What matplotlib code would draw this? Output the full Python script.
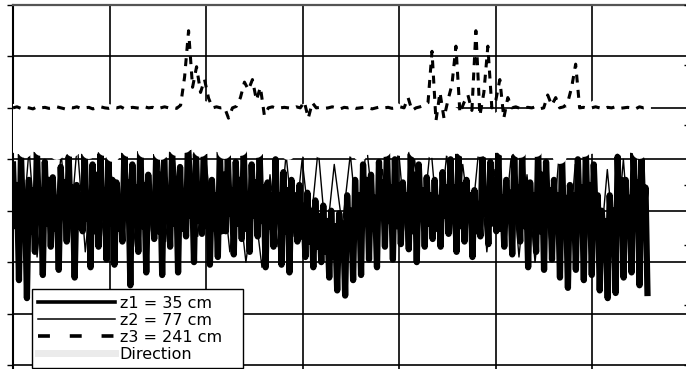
import numpy as np
import matplotlib
matplotlib.use("Agg")
import matplotlib.pyplot as plt
from matplotlib.lines import Line2D

plt.rcParams['font.family'] = ['DejaVu Sans']

# ---- data ----
labels = ["z1 = 35 cm", "z2 = 77 cm", "z3 = 241 cm", "Direction"]

z1 = [3.9, 2.7, 3.5, 1.65, 4.1, 2.85, 3.3, 1.3,
      3.6, 2.6, 3.4, 2.2, 4.2, 2.95, 3.4, 1.75,
      3.95, 2.75, 3.6, 2.3, 3.65, 2.65, 3.25, 1.85,
      3.85, 2.9, 3.55, 2.4, 4.05, 2.8, 3.45, 1.7,
      3.5, 2.7, 3.3, 2.6, 4.2, 2.85, 3.3, 1.9,
      3.9, 2.6, 3.7, 2.3, 4.1, 2.95, 3.4, 2.05,
      4.0, 2.75, 3.6, 1.95, 3.55, 2.65, 3.25, 2.4,
      4.15, 2.9, 3.55, 1.55, 3.9, 2.8, 3.45, 2.2,
      4.3, 2.7, 3.5, 1.8, 3.7, 2.85, 3.3, 2.45,
      4.1, 2.6, 3.7, 1.75, 4.0, 2.95, 3.4, 2.3,
      4.2, 2.75, 3.6, 1.8, 3.85, 2.65, 3.25, 2.5,
      4.4, 2.9, 3.55, 2.0, 4.1, 2.8, 3.45, 2.55,
      4.35, 2.7, 3.5, 1.95, 3.6, 2.85, 3.3, 2.1,
      4.2, 2.6, 3.7, 2.6, 4.05, 2.95, 3.4, 2.15,
      3.95, 2.75, 3.6, 2.45, 4.25, 2.65, 3.25, 2.2,
      3.9, 2.9, 3.55, 2.5, 4.1, 2.8, 3.45, 1.9,
      3.55, 2.7, 3.3, 2.3, 4.0, 2.85, 3.3, 1.95,
      3.75, 2.6, 3.4, 1.8, 3.6, 2.7, 3.3, 2.4,
      3.5, 2.5, 3.1, 2.1, 3.35, 2.4, 3.0, 1.9,
      3.2, 2.3, 2.9, 2.0, 3.1, 2.2, 2.8, 1.7,
      3.0, 2.1, 2.7, 1.45, 2.95, 2.2, 2.75, 1.35,
      3.3, 2.4, 3.0, 1.65, 3.6, 2.6, 3.3, 1.75,
      3.9, 2.75, 3.6, 2.05, 3.7, 2.65, 3.25, 1.9,
      3.95, 2.9, 3.55, 2.3, 4.2, 2.8, 3.45, 2.05,
      4.0, 2.7, 3.5, 2.35, 3.55, 2.85, 3.3, 2.25,
      4.1, 2.6, 3.7, 2.0, 3.9, 2.95, 3.4, 2.3,
      3.65, 2.75, 3.3, 2.45, 3.6, 2.65, 3.25, 2.3,
      3.75, 2.9, 3.45, 2.55, 4.0, 2.8, 3.45, 2.2,
      4.15, 2.7, 3.5, 2.4, 3.6, 2.85, 3.3, 2.1,
      3.4, 2.6, 3.1, 2.5, 4.1, 2.95, 3.4, 2.35,
      3.95, 2.75, 3.6, 2.6, 4.2, 2.65, 3.25, 2.3,
      3.6, 2.9, 3.35, 2.15, 4.05, 2.8, 3.45, 2.4,
      4.15, 2.7, 3.5, 1.9, 3.55, 2.85, 3.3, 2.2,
      4.2, 2.6, 3.7, 1.85, 3.95, 2.95, 3.4, 2.05,
      3.6, 2.75, 3.3, 1.7, 4.1, 2.65, 3.25, 1.5,
      3.5, 2.9, 3.3, 1.85, 4.0, 2.8, 3.45, 1.65,
      4.15, 2.7, 3.5, 1.75, 3.9, 2.85, 3.3, 1.45,
      3.0, 2.4, 2.8, 1.3, 3.3, 2.5, 3.0, 1.4,
      4.05, 2.75, 3.6, 1.7, 3.6, 2.65, 3.25, 1.8,
      4.2, 2.9, 3.55, 1.55, 4.0, 2.8, 3.45, 1.4]

z2 = [4.0, 2.3, 4.2, 2.1, 3.9, 2.6, 4.1, 2.4, 4.3, 2.2,
      3.8, 2.5, 4.0, 2.7, 4.2, 2.3, 3.9, 2.6, 4.4, 2.4,
      4.1, 2.8, 4.3, 2.5, 4.0, 2.6, 3.7, 2.2, 3.4, 2.0,
      3.2, 1.9, 3.7, 2.3, 4.1, 2.5, 4.0, 2.6, 4.2, 2.4,
      3.9, 2.7, 4.1, 2.5, 4.3, 2.8, 3.8, 2.6, 4.2, 2.4,
      4.0, 2.7, 4.3, 2.5, 4.1, 2.3, 3.9, 2.6, 4.2, 2.2,
      3.8, 2.4, 4.0, 2.1, 3.7, 2.0, 3.5, 2.2, 4.1, 1.9,
      3.9, 1.8, 3.4, 2.0, 3.8, 2.1, 4.0, 1.9, 3.9, 1.8]

z3 = [5.00, 5.02, 4.99, 5.01, 5.00, 4.98, 5.02, 5.00, 5.01, 4.99,
      5.00, 5.02, 5.00, 4.98, 5.01, 5.00, 5.02, 4.99, 5.00, 5.01,
      4.98, 5.00, 5.02, 5.00, 4.99, 5.01, 5.00, 5.02, 4.98, 5.00,
      5.01, 5.00, 4.99, 5.02, 5.00, 5.01, 4.98, 5.00, 5.02, 5.00,
      5.01, 4.99, 5.05, 5.60, 6.50, 5.40, 5.80, 5.30, 5.55, 5.19,
      5.00, 5.02, 5.00, 5.01, 4.80, 5.00, 5.03, 5.20, 5.50, 5.35,
      5.55, 5.15, 5.40, 4.85, 5.00, 5.02, 4.99, 5.00, 5.01, 5.00,
      4.99, 5.02, 5.00, 5.12, 4.80, 5.10, 5.00, 5.01, 4.99, 5.00,
      5.02, 5.00, 4.98, 5.01, 5.00, 5.02, 4.99, 5.00, 5.01, 5.00,
      4.98, 5.00, 5.02, 5.00, 5.01, 4.99, 5.00, 5.02, 5.00, 5.20,
      4.95, 5.00, 5.02, 5.05, 5.10, 6.10, 4.75, 5.30, 4.80, 5.15,
      5.45, 6.20, 4.90, 5.10, 5.25, 4.95, 6.50, 4.85, 5.30, 6.20,
      5.00, 5.15, 5.55, 4.80, 5.20, 5.00, 5.02, 4.99, 5.00, 5.01,
      5.00, 5.02, 4.98, 5.00, 5.25, 5.05, 5.20, 5.00, 5.02, 5.10,
      5.40, 5.85, 5.00, 5.01, 4.99, 5.00, 5.02, 5.00, 4.98, 5.01,
      5.00, 5.02, 4.99, 5.00, 5.01, 5.00, 4.98, 5.02, 5.00, 5.01]

direction = [254, 218, 253, 214, 255, 220, 252, 216, 256, 219,
             253, 212, 255, 221, 254, 215, 252, 218, 256, 213,
             253, 220, 255, 216, 254, 210, 252, 219, 256, 215,
             253, 221, 255, 214, 254, 218, 256, 212, 253, 220,
             255, 216, 252, 219, 256, 222, 254, 215, 257, 218,
             253, 220, 255, 213, 254, 219, 256, 216, 253, 221,
             255, 214, 252, 218, 256, 220, 254, 215, 253, 212,
             255, 218, 254, 215, 256, 220, 253, 214, 255, 219,
             254, 216, 256, 221, 253, 215, 255, 211, 254, 217,
             252, 220, 256, 215, 253, 219, 255, 216, 254, 221,
             252, 214, 256, 218, 253, 214, 255, 219, 254, 216,
             252, 218, 250, 215, 247, 220, 246, 215, 248, 214,
             245, 219, 247, 216, 246, 221, 248, 214, 247, 218,
             251, 215, 253, 220, 252, 216, 254, 208, 251, 217,
             253, 220, 252, 215, 255, 218, 258, 214, 260, 216,
             259, 219, 261, 216, 258, 219, 260, 213, 259, 217]

t_end = 6.57
x_z1 = np.linspace(0, t_end, len(z1))
x_z2 = np.linspace(0, t_end, len(z2))
x_z3 = np.linspace(0, t_end, len(z3))
x_dir = np.linspace(0, t_end, len(direction))

# ---- figure ----
W, H = 686, 369
fig = plt.figure(figsize=(W / 100, H / 100), dpi=100)
left_px, right_px, top_px, bot_px = 13, 689, 5, 380
ax = fig.add_axes([left_px / W, 1 - bot_px / H,
                   (right_px - left_px) / W, (bot_px - top_px) / H])
ax.set_xlim(0, 7)
ax.set_ylim(-15 / 51.43, 7)
ax.set_xticks(np.arange(0, 8, 1))
ax.set_yticks(np.arange(0, 8, 1))
ax.grid(True, color='black', lw=1.2)
ax.set_axisbelow(True)
ax.tick_params(axis='y', direction='out', length=4.5, width=1.0, labelleft=False)
ax.tick_params(axis='x', direction='out', length=4.5, width=1.0, labelbottom=False)
for s in ['left', 'bottom']:
    ax.spines[s].set_color('black')
    ax.spines[s].set_linewidth(1.5)
ax.spines['top'].set_color('#555555')
ax.spines['top'].set_linewidth(1.6)
ax.spines['right'].set_visible(False)

ax.plot(x_z1, z1, color='black', lw=4.5, zorder=2)
ax.plot(x_z2, z2, color='black', lw=1.0, zorder=2.1)

ax2 = ax.twinx()
ax2.set_ylim(-15, 360)
ax2.set_yticks(np.arange(0, 361, 60))
ax2.tick_params(axis='y', direction='in', length=3.5, width=1.0, labelright=False)
for s in ['left', 'top', 'bottom']:
    ax2.spines[s].set_visible(False)
ax2.spines['right'].set_linewidth(1.5)

ax2.plot(x_dir, direction, color='white', lw=10, zorder=2)
ax2.plot(x_z3, z3, color='black', lw=2.2, dashes=(2.6, 2.4), zorder=3,
         transform=ax.transData)

handles = [Line2D([], [], color='black', lw=2.6),
           Line2D([], [], color='black', lw=1.1),
           Line2D([], [], color='black', lw=2.6, dashes=(3.3, 5.5)),
           Line2D([], [], color='#ebebeb', lw=5)]
leg = fig.legend(handles, labels, loc='lower left',
                 bbox_to_anchor=(32 / W, 1 / H, (243 - 32) / W, 0.2),
                 bbox_transform=fig.transFigure, mode='expand',
                 borderaxespad=0, fontsize=11.5, handlelength=4.8,
                 handletextpad=0.3, labelspacing=0.12, borderpad=0.4,
                 fancybox=False, framealpha=1, edgecolor='black')
leg.get_frame().set_linewidth(1.0)

fig.savefig('out.png', dpi=100)
